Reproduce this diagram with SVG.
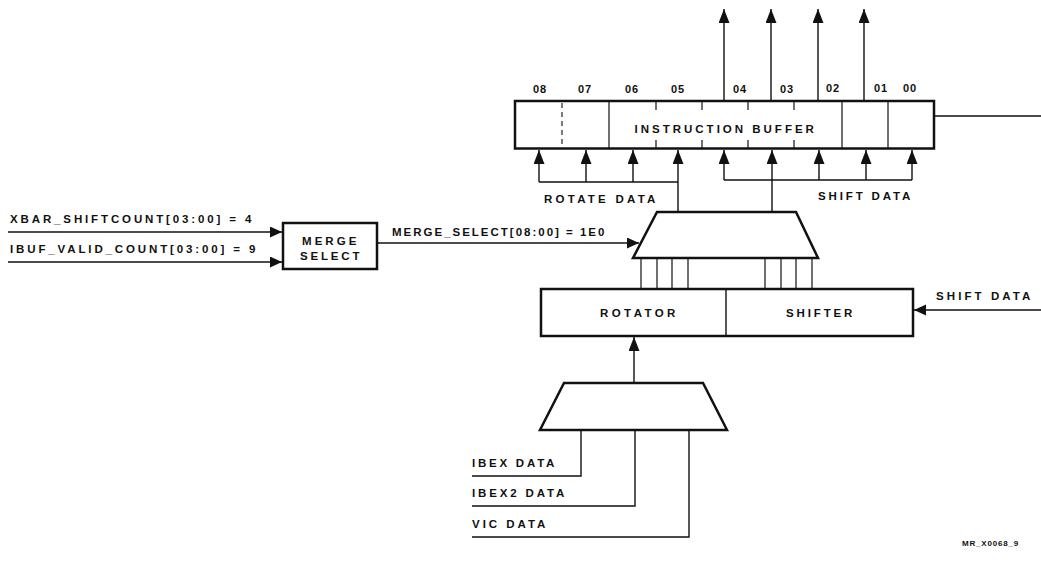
<svg xmlns="http://www.w3.org/2000/svg" width="1041" height="561" viewBox="0 0 1041 561">
  <style>
    text { font-family: "Liberation Sans", Arial, sans-serif; font-size: 11.5px; font-weight: bold; fill: #111; letter-spacing: 1.6px; }
    .sm { font-size: 11px; letter-spacing: 1px; }
    .box { fill: #fff; stroke: #111; stroke-width: 2.5; }
    .ln { fill: none; stroke: #111; stroke-width: 1.4; }
    .thin { fill: none; stroke: #111; stroke-width: 1.2; }
    .dash { fill: none; stroke: #111; stroke-width: 1.1; stroke-dasharray: 5 4; }
  </style>
  <defs>
    <marker id="arr" markerUnits="userSpaceOnUse" markerWidth="12" markerHeight="12" viewBox="0 0 12 12" refX="12" refY="5.5" orient="auto">
      <path d="M0,0 L12,5.5 L0,11 Z" fill="#111"/>
    </marker>
    <marker id="arrV" markerUnits="userSpaceOnUse" markerWidth="15" markerHeight="12" viewBox="0 0 15 12" refX="14" refY="5.5" orient="auto">
      <path d="M0,0 L14,5.5 L0,11 Z" fill="#111"/>
    </marker>
  </defs>

  <!-- instruction buffer -->
  <g id="instruction-buffer">
    <rect class="box" x="515" y="101" width="419" height="47.5"/>
    <line class="dash" x1="562" y1="103" x2="562" y2="147"/>
    <line class="thin" x1="609" y1="101" x2="609" y2="148"/>
    <line class="thin" x1="842" y1="101" x2="842" y2="148"/>
    <line class="thin" x1="888" y1="101" x2="888" y2="148"/>
    <line class="thin" x1="656" y1="102" x2="656" y2="110"/>
    <line class="thin" x1="702" y1="102" x2="702" y2="110"/>
    <line class="thin" x1="748" y1="102" x2="748" y2="110"/>
    <line class="thin" x1="794" y1="102" x2="794" y2="110"/>
    <line class="thin" x1="656" y1="140" x2="656" y2="148"/>
    <line class="thin" x1="702" y1="140" x2="702" y2="148"/>
    <line class="thin" x1="748" y1="140" x2="748" y2="148"/>
    <line class="thin" x1="794" y1="140" x2="794" y2="148"/>
    <text x="725" y="133" text-anchor="middle" textLength="181" lengthAdjust="spacing">INSTRUCTION BUFFER</text>
    <text class="sm" x="540" y="93" text-anchor="middle">08</text>
    <text class="sm" x="585" y="93" text-anchor="middle">07</text>
    <text class="sm" x="632" y="93" text-anchor="middle">06</text>
    <text class="sm" x="678" y="93" text-anchor="middle">05</text>
    <text class="sm" x="740" y="93" text-anchor="middle">04</text>
    <text class="sm" x="787" y="93" text-anchor="middle">03</text>
    <text class="sm" x="833" y="92" text-anchor="middle">02</text>
    <text class="sm" x="881" y="92" text-anchor="middle">01</text>
    <text class="sm" x="910" y="92" text-anchor="middle">00</text>
  </g>

  <!-- merge select -->
  <g id="merge-select">
    <rect class="box" x="283" y="223" width="94" height="46"/>
    <text x="302" y="245" textLength="56" lengthAdjust="spacing">MERGE</text>
    <text x="300" y="260" textLength="61" lengthAdjust="spacing">SELECT</text>
  </g>

  <!-- output mux -->
  <g id="output-mux">
    <path class="box" d="M657,212 L796,212 L818,258 L633,258 Z"/>
  </g>

  <!-- rotator / shifter -->
  <g id="rotator-shifter">
    <rect class="box" x="541" y="289" width="372" height="47"/>
    <line class="ln" x1="726" y1="289" x2="726" y2="336"/>
    <text x="600" y="317" textLength="77" lengthAdjust="spacing">ROTATOR</text>
    <text x="786" y="317" textLength="68" lengthAdjust="spacing">SHIFTER</text>
  </g>

  <!-- input mux -->
  <g id="input-mux">
    <path class="box" d="M564,383 L703,383 L727,430 L540,430 Z"/>
  </g>

  <!-- connectors -->
  <g id="connectors">
    <!-- outputs to the top -->
    <line class="ln" x1="724" y1="101" x2="724" y2="9" marker-end="url(#arrV)"/>
    <line class="ln" x1="771" y1="101" x2="771" y2="9" marker-end="url(#arrV)"/>
    <line class="ln" x1="818" y1="101" x2="818" y2="9" marker-end="url(#arrV)"/>
    <line class="ln" x1="864" y1="101" x2="864" y2="9" marker-end="url(#arrV)"/>
    <line class="ln" x1="934" y1="116" x2="1041" y2="116"/>

    <!-- rotate data bus -->
    <line class="ln" x1="539" y1="182" x2="678" y2="182"/>
    <line class="ln" x1="539" y1="182" x2="539" y2="150" marker-end="url(#arrV)"/>
    <line class="ln" x1="586" y1="182" x2="586" y2="150" marker-end="url(#arrV)"/>
    <line class="ln" x1="633" y1="182" x2="633" y2="150" marker-end="url(#arrV)"/>
    <line class="ln" x1="678" y1="212" x2="678" y2="150" marker-end="url(#arrV)"/>

    <!-- shift data bus -->
    <line class="ln" x1="724" y1="180" x2="912" y2="180"/>
    <line class="ln" x1="724" y1="180" x2="724" y2="150" marker-end="url(#arrV)"/>
    <line class="ln" x1="772" y1="212" x2="772" y2="150" marker-end="url(#arrV)"/>
    <line class="ln" x1="819" y1="180" x2="819" y2="150" marker-end="url(#arrV)"/>
    <line class="ln" x1="866" y1="180" x2="866" y2="150" marker-end="url(#arrV)"/>
    <line class="ln" x1="912" y1="180" x2="912" y2="150" marker-end="url(#arrV)"/>

    <!-- merge select inputs and output -->
    <line class="ln" x1="8" y1="232" x2="282" y2="232" marker-end="url(#arr)"/>
    <line class="ln" x1="8" y1="262" x2="282" y2="262" marker-end="url(#arr)"/>
    <line class="ln" x1="377" y1="243" x2="639" y2="243" marker-end="url(#arr)"/>

    <!-- rotator/shifter to mux -->
    <line class="thin" x1="641" y1="258" x2="641" y2="289"/>
    <line class="thin" x1="657" y1="258" x2="657" y2="289"/>
    <line class="thin" x1="672" y1="258" x2="672" y2="289"/>
    <line class="thin" x1="688" y1="258" x2="688" y2="289"/>
    <line class="thin" x1="765" y1="258" x2="765" y2="289"/>
    <line class="thin" x1="781" y1="258" x2="781" y2="289"/>
    <line class="thin" x1="796" y1="258" x2="796" y2="289"/>
    <line class="thin" x1="812" y1="258" x2="812" y2="289"/>

    <!-- shift data into shifter -->
    <line class="ln" x1="1041" y1="310" x2="914" y2="310" marker-end="url(#arr)"/>

    <!-- input mux to rotator -->
    <line class="ln" x1="634" y1="383" x2="634" y2="337" marker-end="url(#arrV)"/>

    <!-- input data lines -->
    <polyline class="ln" points="472,476 581,476 581,430"/>
    <polyline class="ln" points="472,506 635,506 635,430"/>
    <polyline class="ln" points="472,537 689,537 689,430"/>
  </g>

  <!-- labels -->
  <g id="labels">
    <text x="10" y="223" textLength="243" lengthAdjust="spacing">XBAR_SHIFTCOUNT[03:00] = 4</text>
    <text x="10" y="253" textLength="247" lengthAdjust="spacing">IBUF_VALID_COUNT[03:00] = 9</text>
    <text x="392" y="236" textLength="214" lengthAdjust="spacing">MERGE_SELECT[08:00] = 1E0</text>
    <text x="544" y="203" textLength="113" lengthAdjust="spacing">ROTATE DATA</text>
    <text x="818" y="200" textLength="94" lengthAdjust="spacing">SHIFT DATA</text>
    <text x="936" y="300" textLength="96" lengthAdjust="spacing">SHIFT DATA</text>
    <text x="472" y="467" textLength="84" lengthAdjust="spacing">IBEX DATA</text>
    <text x="472" y="497" textLength="94" lengthAdjust="spacing">IBEX2 DATA</text>
    <text x="472" y="528" textLength="75" lengthAdjust="spacing">VIC DATA</text>
    <text x="962" y="546" style="font-size:8px;letter-spacing:0.8px">MR_X0068_9</text>
  </g>
</svg>
